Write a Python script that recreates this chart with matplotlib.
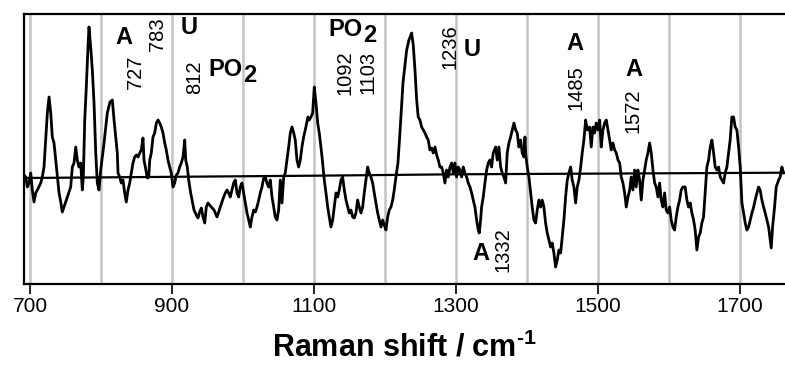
import numpy as np
import matplotlib.pyplot as plt

plt.rcParams['font.family'] = ['Liberation Sans', 'DejaVu Sans']
plt.rcParams['mathtext.fontset'] = 'custom'
plt.rcParams['mathtext.rm'] = 'Liberation Sans'
plt.rcParams['mathtext.bf'] = 'Liberation Sans:bold'

##########################################################
# Spectrum (difference spectrum, arbitrary units)
##########################################################

shift = np.array([
    691.5, 693.9, 696.2, 698.6, 701.0, 703.2, 705.6, 708.0, 710.3, 715.1,
    717.3, 719.7, 722.1, 724.4, 726.8, 729.2, 731.4, 733.8, 736.2, 738.5,
    740.9, 743.3, 745.5, 747.9, 752.6, 757.3, 759.6, 762.0, 764.4, 766.6,
    769.0, 771.4, 773.7, 775.1, 777.1, 779.3, 781.7, 783.1, 785.5, 787.8,
    790.2, 792.6, 794.8, 797.2, 799.6, 804.3, 808.9, 812.7, 816.0, 818.4,
    823.0, 824.0, 826.4, 828.6, 831.0, 833.4, 835.7, 838.1, 840.5, 842.7,
    845.1, 847.5, 849.8, 852.2, 854.6, 856.8, 859.2, 860.6, 862.5, 865.3,
    867.3, 868.7, 870.9, 873.3, 875.7, 878.0, 880.4, 882.8, 885.0, 887.4,
    889.8, 892.0, 894.4, 896.8, 899.1, 901.5, 903.9, 906.1, 908.5, 910.9,
    913.2, 915.6, 918.0, 919.4, 921.6, 923.6, 926.4, 928.3, 931.1, 934.3,
    936.7, 939.1, 941.4, 943.8, 946.2, 948.4, 950.8, 955.5, 959.3, 961.1,
    963.5, 965.9, 968.1, 970.5, 972.9, 975.2, 977.6, 980.0, 982.2, 984.6,
    987.0, 989.3, 991.7, 994.1, 996.3, 998.7, 1001.1, 1003.4, 1005.8, 1008.2,
    1010.4, 1012.8, 1015.2, 1017.5, 1019.9, 1022.3, 1024.5, 1026.9, 1029.3, 1031.5,
    1033.9, 1036.3, 1038.6, 1041.0, 1043.4, 1045.6, 1048.0, 1050.4, 1052.7, 1055.1,
    1057.5, 1059.7, 1062.1, 1064.5, 1066.8, 1069.2, 1071.6, 1073.8, 1076.2, 1078.6,
    1080.9, 1083.2, 1085.6, 1087.9, 1091.7, 1093.5, 1095.9, 1098.3, 1100.6, 1103.0,
    1105.4, 1107.6, 1110.0, 1112.4, 1114.7, 1117.1, 1119.5, 1121.7, 1124.1, 1126.5,
    1128.8, 1131.2, 1133.6, 1135.8, 1138.2, 1140.6, 1142.9, 1145.3, 1147.7, 1149.9,
    1152.3, 1154.7, 1157.0, 1159.3, 1161.7, 1164.0, 1166.4, 1168.8, 1171.0, 1173.4,
    1175.8, 1178.1, 1180.5, 1182.9, 1185.1, 1187.5, 1189.9, 1192.2, 1194.6, 1197.0,
    1199.2, 1201.6, 1204.0, 1206.3, 1208.7, 1211.1, 1213.3, 1215.7, 1218.5, 1221.3,
    1225.6, 1230.8, 1234.0, 1237.8, 1240.1, 1242.5, 1244.9, 1247.1, 1249.5, 1251.9,
    1254.2, 1256.6, 1259.0, 1261.2, 1263.6, 1266.0, 1268.3, 1270.7, 1273.1, 1275.3,
    1277.7, 1280.1, 1282.4, 1284.7, 1287.1, 1289.4, 1291.8, 1294.2, 1296.5, 1298.8,
    1301.2, 1303.5, 1305.9, 1308.3, 1310.5, 1312.9, 1315.3, 1317.6, 1320.0, 1322.4,
    1324.6, 1327.0, 1329.4, 1331.7, 1333.1, 1335.0, 1336.4, 1338.7, 1341.1, 1343.5,
    1345.8, 1348.1, 1350.5, 1352.8, 1356.2, 1358.4, 1360.8, 1363.2, 1365.5, 1367.9,
    1370.3, 1372.5, 1374.9, 1377.3, 1379.6, 1382.0, 1384.4, 1386.6, 1389.0, 1391.4,
    1393.7, 1396.1, 1397.5, 1398.4, 1400.7, 1403.1, 1405.5, 1407.7, 1410.1, 1412.5,
    1414.8, 1417.2, 1419.6, 1421.8, 1424.2, 1426.6, 1428.9, 1431.3, 1433.7, 1435.9,
    1438.3, 1440.7, 1443.0, 1445.4, 1447.8, 1450.0, 1452.4, 1454.8, 1457.1, 1459.5,
    1461.9, 1464.1, 1466.5, 1468.9, 1471.2, 1473.6, 1476.0, 1478.2, 1480.6, 1483.0,
    1485.3, 1488.6, 1490.9, 1493.3, 1495.7, 1498.0, 1500.4, 1502.8, 1505.0, 1507.4,
    1509.8, 1512.1, 1514.5, 1516.9, 1519.1, 1521.5, 1523.9, 1526.2, 1528.6, 1531.0,
    1533.2, 1535.6, 1538.0, 1540.3, 1542.7, 1545.1, 1547.3, 1549.7, 1552.1, 1554.3,
    1556.7, 1559.1, 1561.4, 1563.8, 1566.2, 1568.4, 1570.8, 1573.2, 1575.5, 1577.9,
    1580.3, 1582.5, 1584.9, 1587.3, 1589.5, 1591.9, 1594.3, 1596.6, 1599.0, 1601.4,
    1603.6, 1606.0, 1608.4, 1610.7, 1613.1, 1615.5, 1617.7, 1620.1, 1623.3, 1625.7,
    1628.1, 1630.4, 1632.8, 1635.2, 1637.4, 1639.8, 1642.2, 1644.5, 1646.8, 1649.2,
    1651.5, 1653.9, 1656.3, 1658.6, 1661.0, 1663.4, 1665.6, 1668.0, 1670.4, 1672.7,
    1675.1, 1677.4, 1679.7, 1682.1, 1684.5, 1686.7, 1689.1, 1691.5, 1693.8, 1696.2,
    1698.6, 1700.9, 1703.3, 1705.7, 1707.9, 1710.3, 1712.7, 1715.0, 1717.4, 1719.8,
    1722.0, 1724.4, 1726.8, 1729.0, 1731.4, 1733.8, 1736.1, 1738.5, 1740.9, 1743.1,
    1744.6, 1746.5, 1749.3, 1751.6, 1755.0, 1757.2, 1759.6, 1762.0])

intensity = np.array([
    3, 1, -9, -5, 5, -12, -24, -15, -12, -5,
    1, 11, 38, 65, 81, 65, 41, 35, 18, 1,
    -15, -24, -34, -29, -19, -9, 11, 15, 31, 18,
    11, 15, -12, 1, 58, 91, 131, 151, 131, 108,
    75, 25, -5, -12, 8, 35, 65, 76, 78, 58,
    25, 5, 1, -5, -2, -15, -24, -12, -5, 5,
    15, 21, 23, 21, 25, 28, 40, 18, 11, 0,
    1, 18, 25, 41, 45, 55, 58, 55, 51, 45,
    35, 28, 18, 11, 5, -9, -5, 3, 5, 11,
    15, 21, 38, 18, 11, -2, -15, -22, -32, -37,
    -40, -34, -30, -39, -45, -29, -25, -29, -32, -35,
    -39, -34, -29, -24, -19, -15, -12, -15, -19, -12,
    -5, -2, -15, -19, -9, -5, -15, -25, -35, -42,
    -49, -39, -32, -34, -29, -22, -15, -9, 0, 1,
    -5, -9, -2, -19, -29, -39, -42, -32, -2, -25,
    1, 5, 18, 31, 45, 51, 45, 38, 18, 11,
    18, 31, 41, 48, 61, 58, 61, 65, 91, 75,
    55, 45, 31, 15, -2, -15, -29, -39, -49, -42,
    -29, -15, -19, -12, -2, 1, -12, -22, -29, -35,
    -32, -39, -40, -35, -22, -29, -35, -29, -15, -2,
    11, 5, 1, -5, -15, -25, -35, -42, -49, -42,
    -47, -52, -39, -32, -29, -22, -12, 1, 15, 45,
    95, 128, 138, 145, 133, 108, 78, 61, 58, 51,
    48, 45, 41, 38, 28, 30, 25, 31, 23, 18,
    11, 11, 5, -5, 8, 1, 11, 15, 5, 15,
    1, 11, 8, 1, 11, 5, 1, -5, -9, -15,
    -22, -29, -42, -52, -55, -42, -29, -19, -5, 8,
    15, 18, 11, 25, 31, 18, 31, 11, 5, 1,
    -5, 25, 35, 41, 48, 55, 48, 45, 31, 38,
    25, 21, 41, 25, 11, 1, -15, -29, -42, -45,
    -32, -22, -29, -22, -29, -45, -55, -62, -69, -65,
    -75, -89, -82, -72, -75, -59, -42, -19, -2, 5,
    11, -2, -9, -25, -9, -2, 11, 25, 38, 58,
    48, 51, 31, 51, 45, 55, 48, 58, 31, 48,
    55, 58, 48, 38, 28, 35, 28, 25, 18, 15,
    1, -5, -15, -29, -19, -12, 1, -12, 8, -9,
    8, -2, -22, -2, 8, 18, 25, 35, 25, 8,
    -5, -9, -19, -5, -22, -29, -15, -32, -35, -29,
    -42, -49, -52, -39, -29, -22, -12, -9, -9, -22,
    -29, -25, -35, -42, -52, -72, -59, -55, -45, -39,
    -15, 11, 18, 31, 38, 25, 11, 8, 11, 1,
    -2, -5, 5, 11, 25, 38, 61, 61, 51, 48,
    31, 11, -25, -35, -45, -52, -49, -42, -35, -29,
    -22, -15, -9, -12, -22, -29, -35, -42, -49, -62,
    -70, -49, -29, -9, -2, 1, 11, 5])

# Fitted baseline
base_shift = [691.5, 1100, 1300, 1764]
base_level = [0, 2.3, 3.7, 5.3]

# Band assignments: (label, shift, intensity, rotation, bold)
labels = [
    ('A', 832, 141, 0, True), ('727', 848, 106, 90, False),
    ('783', 879, 144, 90, False), ('U', 924, 150, 0, True),
    ('812', 932, 101, 90, False),
    ('1092', 1144, 105, 90, False), ('1103', 1176, 106, 90, False),
    ('1236', 1292, 131, 90, False), ('U', 1323, 129, 0, True),
    ('A', 1335, -76, 0, True), ('1332', 1366, -72, 90, False),
    ('A', 1468, 134, 0, True), ('1485', 1469, 90, 90, False),
    ('A', 1551, 108, 0, True), ('1572', 1550, 67, 90, False),
]

##########################################################
# Plot
##########################################################

fig = plt.figure(figsize=(7.85, 3.65), dpi=100)
ax = fig.add_axes([24/785, 1 - 284/365, 1 - 24/785, 270/365])

ax.plot(shift, intensity, color='black', lw=2.0, zorder=3)
ax.plot(base_shift, base_level, color='black', lw=1.6, zorder=3)

ax.set_xlim(691.5, 1764)
ax.set_ylim(-106, 164)

ax.set_xticks(np.arange(700, 1701, 200))
ax.set_xticks(np.arange(700, 1701, 100), minor=True)
ax.grid(True, which='both', axis='x', color='#c4c4c4', lw=1.8, zorder=0)
ax.set_yticks([])
ax.tick_params(axis='x', which='major', direction='out', length=7, width=1.2,
               labelsize=15, pad=2)
ax.tick_params(axis='x', which='minor', length=0)

for side in ['top', 'bottom', 'left']:
    ax.spines[side].set_linewidth(1.6)
ax.spines['right'].set_visible(False)

ax.set_xlabel('Raman shift / cm$^{\\mathbf{\u20101}}$', fontsize=22,
              fontweight='bold', labelpad=12)

for txt, x, y, rot, bold in labels:
    ax.text(x, y, txt, rotation=rot, ha='center', va='center',
            fontsize=17 if bold else 14.5,
            fontweight='bold' if bold else 'normal')

# PO2 labels with a large subscript
for x, y in [(976, 108), (1144, 148)]:
    ax.text(x, y, 'PO', ha='center', va='center', fontsize=17, fontweight='bold')
    ax.text(x + 25, y - 6, '2', ha='left', va='center', fontsize=17,
            fontweight='bold')

fig.savefig('out.png', dpi=100)
